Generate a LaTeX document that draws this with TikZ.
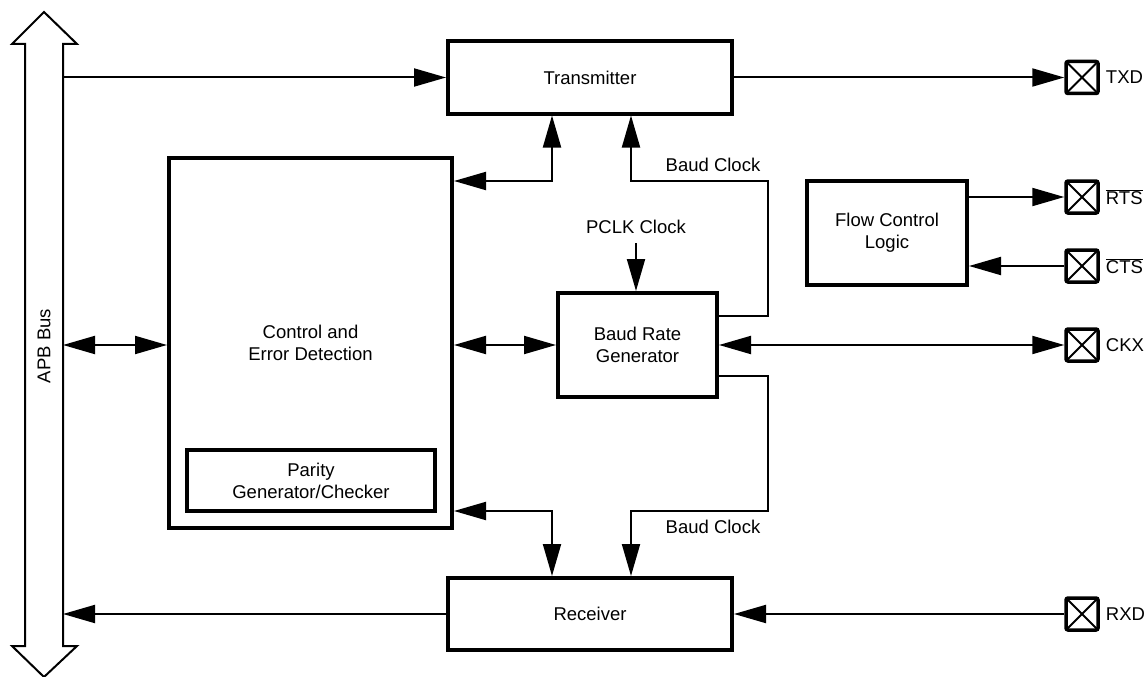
\documentclass[tikz,border=0pt]{standalone}
\usepackage{fontspec}
\setmainfont{Liberation Sans}
\usetikzlibrary{arrows.meta,calc}
\begin{document}
\begin{tikzpicture}[x=1pt,y=-1pt,
  >={Triangle[length=32pt,width=18pt]},
  every node/.style={font=\fontsize{18.5}{22}\selectfont},
  blk/.style={draw,line width=4pt,inner sep=0pt,align=center},
  con/.style={line width=2pt},
  pin/.style={draw,line width=3.5pt,rounded corners=2pt,minimum size=32pt,inner sep=0pt,
    path picture={\draw[line width=2pt] (path picture bounding box.north west) -- (path picture bounding box.south east)
      (path picture bounding box.north east) -- (path picture bounding box.south west);}},
  plabel/.style={anchor=west,inner sep=0pt,xshift=6pt},
  lbl/.style={inner sep=0pt}]
\useasboundingbox (0,0) rectangle (1144,677);
% APB bus
\draw[line width=2pt,line join=miter] (44,12) -- (77,44) -- (63,44) -- (63,646) -- (77,646) -- (44,677)
  -- (12,646) -- (25,646) -- (25,44) -- (12,44) -- cycle;
\coordinate (busR) at (63,0);
\node[rotate=90] (apb) at (44,346) {APB Bus};
% blocks
\node[blk,minimum width=284pt,minimum height=72pt] (tx) at (590,77.5) {Transmitter};
\node[blk,minimum width=283pt,minimum height=370pt] (ctrl) at (310.5,343) {Control and\\Error Detection};
\node[blk,minimum width=248pt,minimum height=61pt] (par) at (311,480.5) {Parity\\Generator/Checker};
\node[blk,minimum width=159pt,minimum height=104pt] (brg) at (637.5,345) {Baud Rate\\Generator};
\node[blk,minimum width=160pt,minimum height=104pt] (flow) at (887,233) {Flow Control\\Logic};
\node[blk,minimum width=284pt,minimum height=72pt] (rx) at (590,614) {Receiver};
% pins
\node[pin] (txd) at (1082,77.5) {};
\node[pin] (rts) at (1082,197) {};
\node[pin] (cts) at (1082,266) {};
\node[pin] (ckx) at (1082,345) {};
\node[pin] (rxd) at (1082,614) {};
\node[plabel] (txdl) at (txd.east) {TXD};
\node[plabel] (rtsl) at (rts.east) {$\overline{\mbox{RTS}}$};
\node[plabel] (ctsl) at (cts.east) {$\overline{\mbox{CTS}}$};
\node[plabel] (ckxl) at (ckx.east) {CKX};
\node[plabel] (rxdl) at (rxd.east) {RXD};
% labels
\node[lbl] (pclk) at (636,227) {PCLK Clock};
\node[lbl] (bc1) at (713,165) {Baud Clock};
\node[lbl] (bc2) at (713,527) {Baud Clock};
% connectors
\draw[con,->] (tx.west -| busR) -- (tx.west);
\draw[con,->] (tx.east) -- (txd.west);
\draw[con,<->] (brg.west -| busR) -- (brg.west -| ctrl.west);
\draw[con,<->] (brg.west -| ctrl.east) -- (brg.west);
\draw[con,<->] (brg.east) -- (ckx.west);
\draw[con,<->] ([yshift=162pt]ctrl.east) -| ([xshift=-38pt]tx.south);
\draw[con,->] ([yshift=29pt]brg.east) -| (768,181) -| ([xshift=41pt]tx.south);
\draw[con,->] (pclk.south |- 0,243) -- (pclk.south |- brg.north);
\draw[con,<->] ([yshift=-168pt]ctrl.east) -| ([xshift=-38pt]rx.north);
\draw[con,->] ([yshift=-31pt]brg.east) -| (768,511) -| ([xshift=41pt]rx.north);
\draw[con,->] (rts.west -| flow.east) -- (rts.west);
\draw[con,->] (cts.west) -- (cts.west -| flow.east);
\draw[con,->] (rxd.west) -- (rx.east);
\draw[con,->] (rx.west) -- (rx.west -| busR);
\end{tikzpicture}
\end{document}
